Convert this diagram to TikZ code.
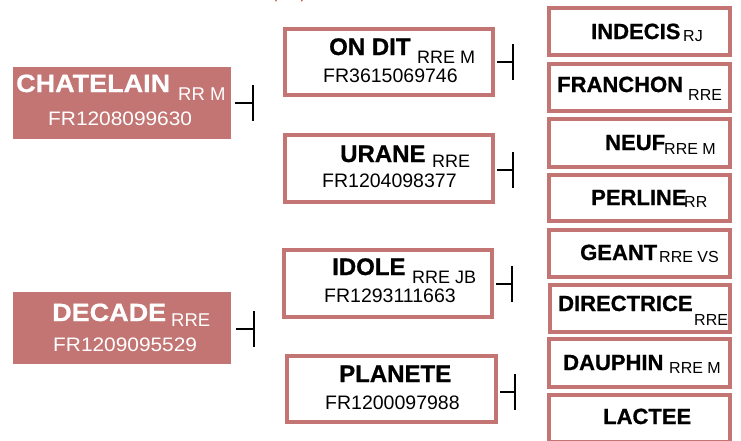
\documentclass[tikz,border=0pt]{standalone}
\usepackage{fontspec}
\setmainfont{Liberation Sans}
\definecolor{rose}{HTML}{C27573}
\definecolor{topred}{HTML}{C0392B}
\begin{document}
\begin{tikzpicture}[x=1pt,y=-1pt,
  fbox/.style={fill=rose, draw=none, inner sep=0pt, minimum width=218pt, minimum height=72pt},
  obox/.style={draw=rose, line width=4pt, fill=white, inner sep=0pt},
  mbox/.style={obox, minimum width=208pt, minimum height=66pt},
  rbox/.style={obox, minimum width=181pt, minimum height=47pt},
  lname/.style={font=\bfseries\fontsize{25}{25}\selectfont\addfontfeatures{FakeStretch=1.08,FakeBold=0.8}, text=white, inner sep=0pt, anchor=base west},
  lsub/.style={font=\fontsize{18.5}{18.5}\selectfont, text=white, inner sep=0pt, anchor=base west},
  lnum/.style={font=\fontsize{19.5}{19.5}\selectfont\addfontfeatures{FakeStretch=1.07}, text=white, inner sep=0pt, anchor=base west},
  mname/.style={font=\bfseries\fontsize{24}{24}\selectfont\addfontfeatures{FakeBold=0.8}, inner sep=0pt, anchor=base west},
  msub/.style={font=\fontsize{18}{18}\selectfont, inner sep=0pt, anchor=base west},
  mnum/.style={font=\fontsize{19.5}{19.5}\selectfont, inner sep=0pt, anchor=base west},
  rname/.style={font=\bfseries\fontsize{22}{22}\selectfont\addfontfeatures{FakeBold=0.8}, inner sep=0pt, anchor=base west},
  rsub/.style={font=\fontsize{16}{16}\selectfont, inner sep=0pt, anchor=base west},
  link/.style={draw=black, line width=1.6pt},
]
\useasboundingbox (0,0) rectangle (741,440);

% red text at the top edge, cut off as in the reference
\node[font=\fontsize{16}{16}\selectfont, text=topred, inner sep=0pt, anchor=base west] (toptxt) at (272,-2) {(RR)};

% left column
\node[fbox] (chat) at (122,103) {};
\node[lname] (chatn) at (16,92) {CHATELAIN};
\node[lsub] (chats) at (178,100) {RR M};
\node[lnum] (chatf) at (48,125) {FR1208099630};

\node[fbox] (deca) at (122,328) {};
\node[lname] (decan) at (52,321) {DECADE};
\node[lsub] (decas) at (171,326) {RRE};
\node[lnum] (decaf) at (53,351) {FR1209095529};

% middle column
\node[mbox] (ondit) at (389,62) {};
\node[mname] (onditn) at (329,55) {ON DIT};
\node[msub] (ondits) at (417,63) {RRE M};
\node[mnum] (onditf) at (323,82) {FR3615069746};

\node[mbox, minimum height=67pt] (urane) at (389,168.5) {};
\node[mname] (uranen) at (340,162) {URANE};
\node[msub] (uranes) at (432,167) {RRE};
\node[mnum] (uranef) at (322,187) {FR1204098377};

\node[mbox, minimum height=67pt] (idole) at (388,283.5) {};
\node[mname] (idolen) at (332,275) {IDOLE};
\node[msub] (idoles) at (412,283) {RRE JB};
\node[mnum] (idolef) at (324,302) {FR1293111663};

\node[mbox, minimum width=209pt] (plan) at (391.5,389) {};
\node[mname] (plann) at (339,382) {PLANETE};
\node[mnum] (planf) at (325,409) {FR1200097988};

% right column
\node[rbox] (indec) at (639.5,31.5) {};
\node[rname] (indecn) at (591,39) {INDECIS};
\node[rsub] (indecs) at (683,41) {RJ};

\node[rbox] (franc) at (639.5,87.5) {};
\node[rname] (francn) at (557,92) {FRANCHON};
\node[rsub] (francs) at (688,100) {RRE};

\node[rbox, minimum height=48pt] (neuf) at (639.5,143) {};
\node[rname] (neufn) at (605,150) {NEUF};
\node[rsub] (neufs) at (664,154) {RRE M};

\node[rbox, minimum height=46pt] (perl) at (639.5,198) {};
\node[rname] (perln) at (591,205) {PERLINE};
\node[rsub] (perls) at (684,207) {RR};

\node[rbox] (geant) at (639.5,253.5) {};
\node[rname] (geantn) at (580,260) {GEANT};
\node[rsub] (geants) at (659,262) {RRE VS};

\node[rbox, minimum width=180pt] (direc) at (640,308.5) {};
\node[rname] (direcn) at (558,311) {DIRECTRICE};
\node[rsub] (direcs) at (694,325) {RRE};

\node[rbox, minimum height=48pt] (daup) at (639.5,363) {};
\node[rname] (daupn) at (563,370) {DAUPHIN};
\node[rsub] (daups) at (669,373) {RRE M};

\node[rbox] (lact) at (639.5,418.5) {};
\node[rname] (lactn) at (603,424) {LACTEE};

% connectors
\coordinate (t1) at (253,103);
\coordinate (t2) at (254,329);
\coordinate (t3) at (513,62);
\coordinate (t4) at (513,170);
\coordinate (t5) at (512,284);
\coordinate (t6) at (515,392);

\draw[link] ([xshift=4pt]chat.east |- t1) -- (t1);
\draw[link] (t1) ++(0,-18) -- ++(0,36);
\draw[link] ([xshift=5pt]deca.east |- t2) -- (t2);
\draw[link] (t2) ++(0,-18) -- ++(0,36);
\draw[link] ([xshift=2pt]ondit.east |- t3) -- (t3);
\draw[link] (t3) ++(0,-18) -- ++(0,36);
\draw[link] ([xshift=2pt]urane.east |- t4) -- (t4);
\draw[link] (t4) ++(0,-18) -- ++(0,36);
\draw[link] ([xshift=2pt]idole.east |- t5) -- (t5);
\draw[link] (t5) ++(0,-18) -- ++(0,36);
\draw[link] ([xshift=2pt]plan.east |- t6) -- (t6);
\draw[link] (t6) ++(0,-18) -- ++(0,36);
\end{tikzpicture}
\end{document}
